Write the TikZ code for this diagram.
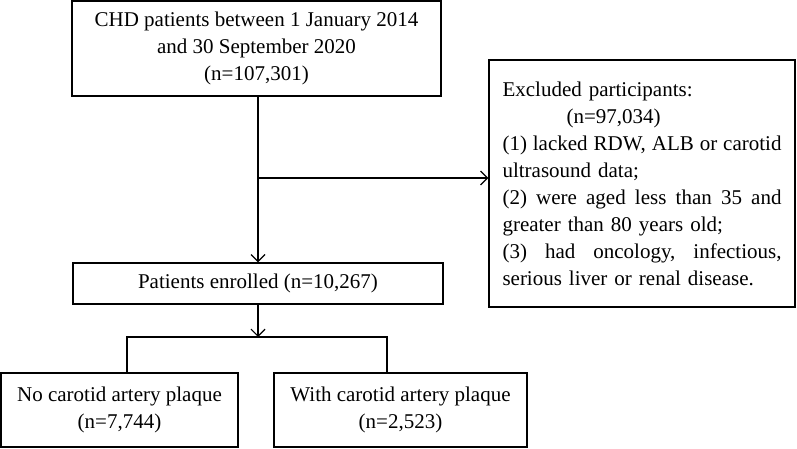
\documentclass[tikz,border=0pt]{standalone}
\usepackage{fontspec}
\setmainfont{Liberation Serif}
\usetikzlibrary{arrows.meta}
\newcommand\jline[1]{\leavevmode\hbox to 279pt{#1}}
\newcommand\gap{\hspace{0pt plus 1fil}}
\begin{document}
\begin{tikzpicture}[x=1pt,y=-1pt,
  font=\fontsize{21}{27}\selectfont,
  box/.style={draw, line width=1.3pt, inner sep=0pt, align=center, rectangle},
  conn/.style={line width=1.2pt},
  arr/.style={conn, -{Straight Barb[length=7pt,width=14pt,line width=1.2pt]}}]
\useasboundingbox (0,0) rectangle (797,449);
\node[box, minimum width=369, minimum height=95] (top) at (256.5,48.5)
  {CHD patients between 1 January 2014\\ and 30 September 2020\\ (n=107,301)};
\node[box, minimum width=306, minimum height=247, text width=279pt, align=left] (excl) at (642,183.5)
  {Excluded participants:\\
   \hspace*{64pt}(n=97,034)\\
   \jline{(1)\gap lacked\gap RDW,\gap ALB\gap or\gap carotid}\\
   ultrasound data;\\
   \jline{(2)\gap were\gap aged\gap less\gap than\gap 35\gap and}\\
   greater than 80 years old;\\
   \jline{(3)\gap had\gap oncology,\gap infectious,}\\
   serious liver or renal disease.};
\node[box, minimum width=370, minimum height=41] (enr) at (258,283.5)
  {Patients enrolled (n=10,267)};
\node[box, minimum width=237, minimum height=74] (nop) at (119.5,410)
  {No carotid artery plaque\\ (n=7,744)};
\node[box, minimum width=253, minimum height=74] (wp) at (400.5,410)
  {With carotid artery plaque\\ (n=2,523)};
\coordinate (bx) at (258,178);
\coordinate (split) at (258,337);
\coordinate (sl) at (127,337);
\coordinate (sr) at (387,337);
\draw[arr] (enr.north |- top.south) -- (enr.north);
\draw[arr] (bx) -- (excl.west |- bx);
\draw[arr] (enr.south) -- (split);
\draw[conn] (nop.north -| sl) -- (sl) -- (sr) -- (wp.north -| sr);
\end{tikzpicture}
\end{document}
